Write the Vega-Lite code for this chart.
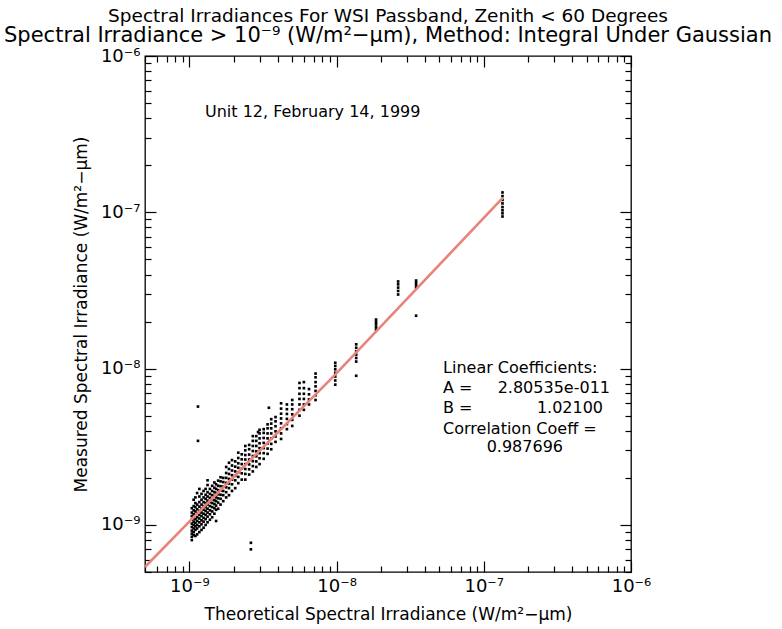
{
  "$schema": "https://vega.github.io/schema/vega-lite/v6.json",
  "autosize": {"type": "none"},
  "padding": {"left": 145, "top": 56, "right": 151, "bottom": 57},
  "width": 486,
  "height": 516,
  "background": "white",
  "config": {
    "view": {"stroke": "black", "strokeWidth": 1.3},
    "font": "DejaVu Sans",
    "axis": {"grid": false, "domain": false}
  },
  "title": {
    "text": "Spectral Irradiances For WSI Passband, Zenith < 60 Degrees",
    "subtitle": "Spectral Irradiance > 10⁻⁹ (W/m²−μm), Method: Integral Under Gaussian",
    "fontSize": 18.5, "font": "DejaVu Sans", "fontWeight": "normal", "anchor": "middle", "offset": 1, "color": "black",
    "subtitleFontSize": 21, "subtitleFont": "DejaVu Sans", "subtitleColor": "black", "subtitlePadding": 0
  },
  "datasets": {
    "pts": [
      {"x":1.04e-9,"y":0.80e-9},{"x":1.04e-9,"y":0.84e-9},{"x":1.04e-9,"y":0.88e-9},{"x":1.04e-9,"y":0.92e-9},{"x":1.04e-9,"y":0.97e-9},{"x":1.04e-9,"y":1.02e-9},{"x":1.04e-9,"y":1.08e-9},{"x":1.04e-9,"y":1.14e-9},{"x":1.04e-9,"y":1.2e-9},{"x":1.04e-9,"y":1.28e-9},
      {"x":1.07e-9,"y":0.86e-9},{"x":1.07e-9,"y":0.9e-9},{"x":1.07e-9,"y":0.95e-9},{"x":1.07e-9,"y":1.0e-9},{"x":1.07e-9,"y":1.05e-9},{"x":1.07e-9,"y":1.1e-9},{"x":1.07e-9,"y":1.17e-9},{"x":1.07e-9,"y":1.24e-9},{"x":1.07e-9,"y":1.32e-9},{"x":1.07e-9,"y":1.45e-9},
      {"x":1.1e-9,"y":0.85e-9},{"x":1.1e-9,"y":0.93e-9},{"x":1.1e-9,"y":0.98e-9},{"x":1.1e-9,"y":1.03e-9},{"x":1.1e-9,"y":1.09e-9},{"x":1.1e-9,"y":1.15e-9},{"x":1.1e-9,"y":1.22e-9},{"x":1.1e-9,"y":1.3e-9},{"x":1.1e-9,"y":1.38e-9},{"x":1.1e-9,"y":1.5e-9},
      {"x":1.13e-9,"y":0.87e-9},{"x":1.13e-9,"y":0.95e-9},{"x":1.13e-9,"y":1.0e-9},{"x":1.13e-9,"y":1.06e-9},{"x":1.13e-9,"y":1.12e-9},{"x":1.13e-9,"y":1.19e-9},{"x":1.13e-9,"y":1.26e-9},{"x":1.13e-9,"y":1.35e-9},{"x":1.13e-9,"y":1.6e-9},
      {"x":1.17e-9,"y":0.9e-9},{"x":1.17e-9,"y":0.98e-9},{"x":1.17e-9,"y":1.04e-9},{"x":1.17e-9,"y":1.1e-9},{"x":1.17e-9,"y":1.16e-9},{"x":1.17e-9,"y":1.23e-9},{"x":1.17e-9,"y":1.31e-9},{"x":1.17e-9,"y":1.4e-9},{"x":1.17e-9,"y":1.52e-9},{"x":1.17e-9,"y":1.7e-9},
      {"x":1.21e-9,"y":0.93e-9},{"x":1.21e-9,"y":1.01e-9},{"x":1.21e-9,"y":1.07e-9},{"x":1.21e-9,"y":1.14e-9},{"x":1.21e-9,"y":1.2e-9},{"x":1.21e-9,"y":1.27e-9},{"x":1.21e-9,"y":1.35e-9},{"x":1.21e-9,"y":1.45e-9},{"x":1.21e-9,"y":1.58e-9},
      {"x":1.25e-9,"y":0.96e-9},{"x":1.25e-9,"y":1.05e-9},{"x":1.25e-9,"y":1.11e-9},{"x":1.25e-9,"y":1.18e-9},{"x":1.25e-9,"y":1.25e-9},{"x":1.25e-9,"y":1.32e-9},{"x":1.25e-9,"y":1.4e-9},{"x":1.25e-9,"y":1.5e-9},{"x":1.25e-9,"y":1.65e-9},
      {"x":1.29e-9,"y":1.0e-9},{"x":1.29e-9,"y":1.09e-9},{"x":1.29e-9,"y":1.16e-9},{"x":1.29e-9,"y":1.23e-9},{"x":1.29e-9,"y":1.3e-9},{"x":1.29e-9,"y":1.38e-9},{"x":1.29e-9,"y":1.47e-9},{"x":1.29e-9,"y":1.56e-9},{"x":1.29e-9,"y":1.7e-9},
      {"x":1.33e-9,"y":1.04e-9},{"x":1.33e-9,"y":1.13e-9},{"x":1.33e-9,"y":1.2e-9},{"x":1.33e-9,"y":1.27e-9},{"x":1.33e-9,"y":1.35e-9},{"x":1.33e-9,"y":1.43e-9},{"x":1.33e-9,"y":1.52e-9},{"x":1.33e-9,"y":1.62e-9},{"x":1.33e-9,"y":1.8e-9},{"x":1.33e-9,"y":1.93e-9},
      {"x":1.38e-9,"y":1.08e-9},{"x":1.38e-9,"y":1.17e-9},{"x":1.38e-9,"y":1.24e-9},{"x":1.38e-9,"y":1.32e-9},{"x":1.38e-9,"y":1.4e-9},{"x":1.38e-9,"y":1.49e-9},{"x":1.38e-9,"y":1.58e-9},{"x":1.38e-9,"y":1.7e-9},
      {"x":1.43e-9,"y":1.12e-9},{"x":1.43e-9,"y":1.22e-9},{"x":1.43e-9,"y":1.3e-9},{"x":1.43e-9,"y":1.38e-9},{"x":1.43e-9,"y":1.46e-9},{"x":1.43e-9,"y":1.55e-9},{"x":1.43e-9,"y":1.65e-9},{"x":1.43e-9,"y":1.78e-9},
      {"x":1.48e-9,"y":1.18e-9},{"x":1.48e-9,"y":1.28e-9},{"x":1.48e-9,"y":1.36e-9},{"x":1.48e-9,"y":1.44e-9},{"x":1.48e-9,"y":1.53e-9},{"x":1.48e-9,"y":1.62e-9},{"x":1.48e-9,"y":1.73e-9},{"x":1.48e-9,"y":1.87e-9},
      {"x":1.52e-9,"y":1.06e-9},{"x":1.52e-9,"y":1.25e-9},{"x":1.52e-9,"y":1.33e-9},{"x":1.52e-9,"y":1.42e-9},{"x":1.52e-9,"y":1.5e-9},{"x":1.52e-9,"y":1.6e-9},{"x":1.52e-9,"y":1.7e-9},{"x":1.52e-9,"y":1.82e-9},
      {"x":1.57e-9,"y":1.27e-9},{"x":1.57e-9,"y":1.39e-9},{"x":1.57e-9,"y":1.48e-9},{"x":1.57e-9,"y":1.57e-9},{"x":1.57e-9,"y":1.67e-9},{"x":1.57e-9,"y":1.78e-9},{"x":1.57e-9,"y":1.92e-9},
      {"x":1.63e-9,"y":1.35e-9},{"x":1.63e-9,"y":1.47e-9},{"x":1.63e-9,"y":1.56e-9},{"x":1.63e-9,"y":1.66e-9},{"x":1.63e-9,"y":1.77e-9},{"x":1.63e-9,"y":1.9e-9},{"x":1.63e-9,"y":2.02e-9},
      {"x":1.7e-9,"y":1.42e-9},{"x":1.7e-9,"y":1.55e-9},{"x":1.7e-9,"y":1.65e-9},{"x":1.7e-9,"y":1.76e-9},{"x":1.7e-9,"y":1.88e-9},{"x":1.7e-9,"y":2.0e-9},
      {"x":1.78e-9,"y":1.5e-9},{"x":1.78e-9,"y":1.62e-9},{"x":1.78e-9,"y":1.74e-9},{"x":1.78e-9,"y":1.86e-9},{"x":1.78e-9,"y":2.0e-9},{"x":1.78e-9,"y":2.15e-9},{"x":1.78e-9,"y":2.35e-9},
      {"x":1.86e-9,"y":1.55e-9},{"x":1.86e-9,"y":1.72e-9},{"x":1.86e-9,"y":1.84e-9},{"x":1.86e-9,"y":1.97e-9},{"x":1.86e-9,"y":2.12e-9},{"x":1.86e-9,"y":2.28e-9},{"x":1.86e-9,"y":2.5e-9},
      {"x":1.95e-9,"y":1.65e-9},{"x":1.95e-9,"y":1.82e-9},{"x":1.95e-9,"y":1.95e-9},{"x":1.95e-9,"y":2.08e-9},{"x":1.95e-9,"y":2.23e-9},{"x":1.95e-9,"y":2.4e-9},{"x":1.95e-9,"y":2.6e-9},
      {"x":2.05e-9,"y":1.72e-9},{"x":2.05e-9,"y":1.93e-9},{"x":2.05e-9,"y":2.06e-9},{"x":2.05e-9,"y":2.2e-9},{"x":2.05e-9,"y":2.36e-9},{"x":2.05e-9,"y":2.55e-9},
      {"x":2.15e-9,"y":1.85e-9},{"x":2.15e-9,"y":2.03e-9},{"x":2.15e-9,"y":2.17e-9},{"x":2.15e-9,"y":2.32e-9},{"x":2.15e-9,"y":2.48e-9},{"x":2.15e-9,"y":2.68e-9},{"x":2.15e-9,"y":2.9e-9},
      {"x":2.27e-9,"y":1.95e-9},{"x":2.27e-9,"y":2.14e-9},{"x":2.27e-9,"y":2.29e-9},{"x":2.27e-9,"y":2.45e-9},{"x":2.27e-9,"y":2.63e-9},{"x":2.27e-9,"y":2.83e-9},
      {"x":2.4e-9,"y":1.95e-9},{"x":2.4e-9,"y":2.12e-9},{"x":2.4e-9,"y":2.28e-9},{"x":2.4e-9,"y":2.45e-9},{"x":2.4e-9,"y":2.62e-9},{"x":2.4e-9,"y":2.8e-9},{"x":2.4e-9,"y":3.0e-9},{"x":2.4e-9,"y":3.2e-9},
      {"x":2.55e-9,"y":2.1e-9},{"x":2.55e-9,"y":2.27e-9},{"x":2.55e-9,"y":2.44e-9},{"x":2.55e-9,"y":2.62e-9},{"x":2.55e-9,"y":2.82e-9},{"x":2.55e-9,"y":3.05e-9},{"x":2.55e-9,"y":3.25e-9},
      {"x":2.7e-9,"y":2.2e-9},{"x":2.7e-9,"y":2.38e-9},{"x":2.7e-9,"y":2.56e-9},{"x":2.7e-9,"y":2.76e-9},{"x":2.7e-9,"y":2.97e-9},{"x":2.7e-9,"y":3.2e-9},{"x":2.7e-9,"y":3.45e-9},{"x":2.7e-9,"y":3.7e-9},
      {"x":2.85e-9,"y":2.35e-9},{"x":2.85e-9,"y":2.55e-9},{"x":2.85e-9,"y":2.75e-9},{"x":2.85e-9,"y":2.96e-9},{"x":2.85e-9,"y":3.2e-9},{"x":2.85e-9,"y":3.45e-9},{"x":2.85e-9,"y":3.7e-9},
      {"x":3.0e-9,"y":2.45e-9},{"x":3.0e-9,"y":2.67e-9},{"x":3.0e-9,"y":2.88e-9},{"x":3.0e-9,"y":3.1e-9},{"x":3.0e-9,"y":3.33e-9},{"x":3.0e-9,"y":3.58e-9},{"x":3.0e-9,"y":3.85e-9},{"x":3.0e-9,"y":4.06e-9},
      {"x":3.2e-9,"y":2.65e-9},{"x":3.2e-9,"y":2.88e-9},{"x":3.2e-9,"y":3.1e-9},{"x":3.2e-9,"y":3.35e-9},{"x":3.2e-9,"y":3.6e-9},{"x":3.2e-9,"y":3.88e-9},{"x":3.2e-9,"y":4.1e-9},
      {"x":3.4e-9,"y":2.85e-9},{"x":3.4e-9,"y":3.08e-9},{"x":3.4e-9,"y":3.32e-9},{"x":3.4e-9,"y":3.58e-9},{"x":3.4e-9,"y":3.85e-9},{"x":3.4e-9,"y":4.15e-9},{"x":3.4e-9,"y":4.4e-9},
      {"x":3.6e-9,"y":3.05e-9},{"x":3.6e-9,"y":3.3e-9},{"x":3.6e-9,"y":3.57e-9},{"x":3.6e-9,"y":3.85e-9},{"x":3.6e-9,"y":4.15e-9},{"x":3.6e-9,"y":4.45e-9},{"x":3.6e-9,"y":4.75e-9},
      {"x":3.85e-9,"y":3.4e-9},{"x":3.85e-9,"y":3.68e-9},{"x":3.85e-9,"y":3.97e-9},{"x":3.85e-9,"y":4.28e-9},{"x":3.85e-9,"y":4.6e-9},{"x":3.85e-9,"y":4.9e-9},
      {"x":4.2e-9,"y":3.55e-9},{"x":4.2e-9,"y":3.85e-9},{"x":4.2e-9,"y":4.15e-9},{"x":4.2e-9,"y":4.47e-9},{"x":4.2e-9,"y":4.8e-9},{"x":4.2e-9,"y":5.15e-9},{"x":4.2e-9,"y":5.55e-9},{"x":4.2e-9,"y":6.0e-9},
      {"x":4.6e-9,"y":4.1e-9},{"x":4.6e-9,"y":4.42e-9},{"x":4.6e-9,"y":4.77e-9},{"x":4.6e-9,"y":5.13e-9},{"x":4.6e-9,"y":5.5e-9},{"x":4.6e-9,"y":5.9e-9},
      {"x":5.0e-9,"y":4.3e-9},{"x":5.0e-9,"y":4.7e-9},{"x":5.0e-9,"y":5.1e-9},{"x":5.0e-9,"y":5.5e-9},{"x":5.0e-9,"y":5.9e-9},{"x":5.0e-9,"y":6.3e-9},
      {"x":5.6e-9,"y":5.0e-9},{"x":5.6e-9,"y":5.45e-9},{"x":5.6e-9,"y":5.9e-9},{"x":5.6e-9,"y":6.4e-9},{"x":5.6e-9,"y":6.9e-9},{"x":5.6e-9,"y":7.5e-9},{"x":5.6e-9,"y":8.1e-9},
      {"x":6.0e-9,"y":5.45e-9},{"x":6.0e-9,"y":5.9e-9},{"x":6.0e-9,"y":6.4e-9},{"x":6.0e-9,"y":6.9e-9},{"x":6.0e-9,"y":7.5e-9},{"x":6.0e-9,"y":8.2e-9},
      {"x":6.5e-9,"y":5.9e-9},{"x":6.5e-9,"y":6.35e-9},{"x":6.5e-9,"y":6.85e-9},{"x":6.5e-9,"y":7.4e-9},
      {"x":7.2e-9,"y":6.3e-9},{"x":7.2e-9,"y":6.75e-9},{"x":7.2e-9,"y":7.2e-9},{"x":7.2e-9,"y":7.7e-9},{"x":7.2e-9,"y":8.2e-9},{"x":7.2e-9,"y":8.8e-9},{"x":7.2e-9,"y":9.3e-9},
      {"x":9.8e-9,"y":7.9e-9},{"x":9.8e-9,"y":8.4e-9},{"x":9.8e-9,"y":8.9e-9},{"x":9.8e-9,"y":9.4e-9},{"x":9.8e-9,"y":9.9e-9},{"x":9.8e-9,"y":10.4e-9},{"x":9.8e-9,"y":10.9e-9},
      {"x":13.6e-9,"y":9.0e-9},{"x":13.6e-9,"y":11.1e-9},{"x":13.6e-9,"y":11.7e-9},{"x":13.6e-9,"y":12.3e-9},{"x":13.6e-9,"y":12.9e-9},{"x":13.6e-9,"y":13.6e-9},{"x":13.6e-9,"y":14.3e-9},
      {"x":18.55e-9,"y":17.8e-9},{"x":18.55e-9,"y":18.5e-9},{"x":18.55e-9,"y":19.2e-9},{"x":18.55e-9,"y":19.9e-9},{"x":18.55e-9,"y":20.6e-9},
      {"x":26.2e-9,"y":29.8e-9},{"x":26.2e-9,"y":31.4e-9},{"x":26.2e-9,"y":33.0e-9},{"x":26.2e-9,"y":34.6e-9},{"x":26.2e-9,"y":36.1e-9},
      {"x":34.7e-9,"y":21.8e-9},{"x":34.7e-9,"y":33.0e-9},{"x":34.7e-9,"y":34.2e-9},{"x":34.7e-9,"y":35.4e-9},{"x":34.7e-9,"y":36.6e-9},
      {"x":134e-9,"y":94e-9},{"x":134e-9,"y":98.5e-9},{"x":134e-9,"y":103e-9},{"x":134e-9,"y":108e-9},{"x":134e-9,"y":114e-9},{"x":134e-9,"y":120e-9},{"x":134e-9,"y":127e-9},{"x":134e-9,"y":134e-9},
      {"x":1.145e-9,"y":5.72e-9},{"x":1.145e-9,"y":3.45e-9},{"x":2.62e-9,"y":0.769e-9},{"x":2.62e-9,"y":0.698e-9},{"x":3.47e-9,"y":5.62e-9},{"x":2.93e-9,"y":3.93e-9}
    ],
    "fit": [
      {"x":5e-10,"y":5.38e-10},{"x":1e-9,"y":1.05e-9},{"x":9.5e-9,"y":8.9e-9},{"x":1.35e-7,"y":1.24e-7}
    ],
    "notesLeft": [
      {"x":1.278e-9,"y":4.39e-7,"t":"Unit 12, February 14, 1999"},
      {"x":5.29e-8,"y":10.15e-9,"t":"Linear Coefficients:"},
      {"x":5.29e-8,"y":7.56e-9,"t":"A ="},
      {"x":5.29e-8,"y":5.62e-9,"t":"B ="},
      {"x":5.29e-8,"y":4.12e-9,"t":"Correlation Coeff ="}
    ],
    "notesRight": [
      {"x":7.2e-7,"y":7.56e-9,"t":"2.80535e-011"},
      {"x":6.46e-7,"y":5.62e-9,"t":"1.02100"}
    ],
    "notesCenter": [
      {"x":1.9e-7,"y":3.16e-9,"t":"0.987696"}
    ]
  },
  "resolve": {"axis": {"x": "independent", "y": "independent"}},
  "layer": [
    {
      "data": {"name": "pts"},
      "mark": {"type": "square", "size": 7, "color": "black", "opacity": 1},
      "encoding": {
        "x": {"field": "x", "type": "quantitative", "scale": {"type": "log", "domain": [5e-10, 1e-6]},
          "axis": {"orient": "bottom", "title": "Theoretical Spectral Irradiance (W/m²−μm)", "titleFontSize": 17, "titleFontWeight": "normal", "titleColor": "black", "titlePadding": 6,
            "values": [5e-10,6e-10,7e-10,8e-10,9e-10,1e-9,2e-9,3e-9,4e-9,5e-9,6e-9,7e-9,8e-9,9e-9,1e-8,2e-8,3e-8,4e-8,5e-8,6e-8,7e-8,8e-8,9e-8,1e-7,2e-7,3e-7,4e-7,5e-7,6e-7,7e-7,8e-7,9e-7,1e-6],
            "tickSize": {"condition": {"test": "abs(log(datum.value)/LN10 - round(log(datum.value)/LN10)) < 0.01", "value": -11}, "value": -6},
            "tickColor": "black", "tickWidth": 1.2,
            "labelExpr": "abs(log(datum.value)/LN10 - round(log(datum.value)/LN10)) < 0.01 ? (round(log(datum.value)/LN10) == -9 ? '10⁻⁹' : round(log(datum.value)/LN10) == -8 ? '10⁻⁸' : round(log(datum.value)/LN10) == -7 ? '10⁻⁷' : '10⁻⁶') : ''",
            "labelFontSize": 18, "labelColor": "black", "labelFlush": false, "labelOverlap": false, "labelPadding": 16}},
        "y": {"field": "y", "type": "quantitative", "scale": {"type": "log", "domain": [5e-10, 1e-6]},
          "axis": {"orient": "left", "title": "Measured Spectral Irradiance (W/m²−μm)", "titleFontSize": 17, "titleFontWeight": "normal", "titleColor": "black", "titlePadding": 10,
            "values": [5e-10,6e-10,7e-10,8e-10,9e-10,1e-9,2e-9,3e-9,4e-9,5e-9,6e-9,7e-9,8e-9,9e-9,1e-8,2e-8,3e-8,4e-8,5e-8,6e-8,7e-8,8e-8,9e-8,1e-7,2e-7,3e-7,4e-7,5e-7,6e-7,7e-7,8e-7,9e-7,1e-6],
            "tickSize": {"condition": {"test": "abs(log(datum.value)/LN10 - round(log(datum.value)/LN10)) < 0.01", "value": -11}, "value": -6},
            "tickColor": "black", "tickWidth": 1.2,
            "labelExpr": "abs(log(datum.value)/LN10 - round(log(datum.value)/LN10)) < 0.01 ? (round(log(datum.value)/LN10) == -9 ? '10⁻⁹' : round(log(datum.value)/LN10) == -8 ? '10⁻⁸' : round(log(datum.value)/LN10) == -7 ? '10⁻⁷' : '10⁻⁶') : ''",
            "labelFontSize": 18, "labelColor": "black", "labelFlush": false, "labelOverlap": false, "labelPadding": 16}}
      }
    },
    {
      "data": {"name": "fit"},
      "mark": {"type": "line", "color": "#e8837b", "strokeWidth": 2.6},
      "encoding": {
        "x": {"field": "x", "type": "quantitative", "scale": {"type": "log", "domain": [5e-10, 1e-6]},
          "axis": {"orient": "top", "title": null, "labels": false,
            "values": [5e-10,6e-10,7e-10,8e-10,9e-10,1e-9,2e-9,3e-9,4e-9,5e-9,6e-9,7e-9,8e-9,9e-9,1e-8,2e-8,3e-8,4e-8,5e-8,6e-8,7e-8,8e-8,9e-8,1e-7,2e-7,3e-7,4e-7,5e-7,6e-7,7e-7,8e-7,9e-7,1e-6],
            "tickSize": {"condition": {"test": "abs(log(datum.value)/LN10 - round(log(datum.value)/LN10)) < 0.01", "value": -11}, "value": -6},
            "tickColor": "black", "tickWidth": 1.2}},
        "y": {"field": "y", "type": "quantitative", "scale": {"type": "log", "domain": [5e-10, 1e-6]},
          "axis": {"orient": "right", "title": null, "labels": false,
            "values": [5e-10,6e-10,7e-10,8e-10,9e-10,1e-9,2e-9,3e-9,4e-9,5e-9,6e-9,7e-9,8e-9,9e-9,1e-8,2e-8,3e-8,4e-8,5e-8,6e-8,7e-8,8e-8,9e-8,1e-7,2e-7,3e-7,4e-7,5e-7,6e-7,7e-7,8e-7,9e-7,1e-6],
            "tickSize": {"condition": {"test": "abs(log(datum.value)/LN10 - round(log(datum.value)/LN10)) < 0.01", "value": -11}, "value": -6},
            "tickColor": "black", "tickWidth": 1.2}}
      }
    },
    {
      "data": {"name": "notesLeft"},
      "mark": {"type": "text", "align": "left", "baseline": "middle", "fontSize": 16, "color": "black"},
      "encoding": {
        "x": {"field": "x", "type": "quantitative", "scale": {"type": "log", "domain": [5e-10, 1e-6]}, "axis": null},
        "y": {"field": "y", "type": "quantitative", "scale": {"type": "log", "domain": [5e-10, 1e-6]}, "axis": null},
        "text": {"field": "t"}
      }
    },
    {
      "data": {"name": "notesRight"},
      "mark": {"type": "text", "align": "right", "baseline": "middle", "fontSize": 16, "color": "black"},
      "encoding": {
        "x": {"field": "x", "type": "quantitative", "scale": {"type": "log", "domain": [5e-10, 1e-6]}, "axis": null},
        "y": {"field": "y", "type": "quantitative", "scale": {"type": "log", "domain": [5e-10, 1e-6]}, "axis": null},
        "text": {"field": "t"}
      }
    },
    {
      "data": {"name": "notesCenter"},
      "mark": {"type": "text", "align": "center", "baseline": "middle", "fontSize": 16, "color": "black"},
      "encoding": {
        "x": {"field": "x", "type": "quantitative", "scale": {"type": "log", "domain": [5e-10, 1e-6]}, "axis": null},
        "y": {"field": "y", "type": "quantitative", "scale": {"type": "log", "domain": [5e-10, 1e-6]}, "axis": null},
        "text": {"field": "t"}
      }
    }
  ]
}
